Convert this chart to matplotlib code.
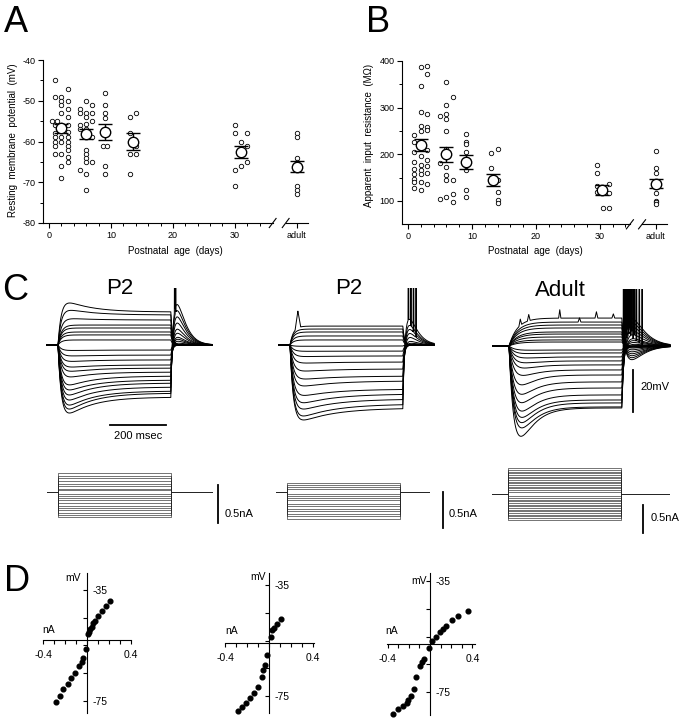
import numpy as np
import matplotlib
matplotlib.use("Agg")
import matplotlib.pyplot as plt

plt.rcParams["font.family"] = ["Liberation Sans", "DejaVu Sans"]
plt.rcParams["axes.unicode_minus"] = False

W, H = 684, 720

# ---------------- A: resting membrane potential (mV) ----------------
a_cols_x = [0.9, 1.9, 3.0, 5, 6, 7, 9, 13, 14, 30, 31, 32, 40]
a_cols_v = [
    [-45, -49, -55, -55, -56, -58, -59, -60, -61, -63],
    [-49, -50, -51, -53, -56, -59, -60, -63, -66, -69],
    [-47, -50, -52, -54, -56, -57.6, -59, -60, -61, -62, -63.8, -65],
    [-52, -53, -56, -57, -67],
    [-50, -53, -54, -55.6, -57, -57.6, -62, -63, -64, -65, -68, -72],
    [-51, -53, -55, -59, -65],
    [-48, -51, -53, -54.3, -58, -61, -61, -66, -68],
    [-54, -58, -63, -68],
    [-53, -61, -63],
    [-56, -58, -67, -71],
    [-60, -63, -66],
    [-58, -61, -65],
    [-58, -59, -64, -65, -66, -66, -71, -72, -73],
]
a_mean_x = [1.9, 5.9, 9.1, 13.6, 31, 40]
a_mean = [-56.8, -58.2, -57.6, -60.0, -62.6, -66.2]
a_sem = [1.0, 1.3, 2.0, 2.0, 1.5, 1.4]

# ---------------- B: apparent input resistance (MOhm) ----------------
b_cols_x = [1.0, 2.0, 3.0, 5, 6, 7, 9, 13, 14, 29.5, 30.5, 31.5, 38.75]
b_cols_v = [
    [241, 227, 205, 183, 169, 157, 148, 140, 128],
    [388, 346, 291, 260, 250, 227, 217, 197, 177, 166, 158, 141, 124],
    [389, 373, 287, 259, 252, 209, 188, 174, 161, 137],
    [282, 181, 104],
    [356, 305, 287, 276, 250, 212, 194, 173, 156, 144, 108],
    [323, 144, 116, 98],
    [244, 227, 222, 205, 189, 177, 166, 123, 108],
    [202, 170, 145],
    [211, 144, 120, 103, 96],
    [178, 160, 133, 119],
    [123, 86],
    [136, 117, 84],
    [207, 170, 159, 141, 130, 117, 101, 98, 94],
]
b_mean_x = [2.0, 6.0, 9.0, 13.3, 30.4, 38.75]
b_mean = [220, 200, 184, 145, 123, 137]
b_sem = [12.5, 16, 14.5, 13.5, 10.5, 10]

# ---------------- C: voltage responses (mV from rest) ----------------
g1_ss = [15.7, 14.3, 11.9, 9.5, 8.1, 6.2, 4.8, 2.4, -2.4, -4.8, -7.1, -9.5, -11.0,
         -12.9, -14.8, -16.7, -18.1, -20.0, -21.9, -22.9, -24.8]
g1_peak = [20.0, 16.5, 12.5, 9.5, 8.1, 6.2, 4.8, 2.4, -2.6, -5.2, -7.8, -10.5, -12.5,
           -15.2, -19.0, -21.4, -23.8, -26.2, -28.6, -30.5, -32.4]
g1_reb = [0, 0, 0, 0, 0, 0, 0, 0, 0, 0, 0, 1, 2, 3, 4, 6, 8, 11, 14, 17, 20]
g1_spikes = [(20, 414, 80, 1.5), (19, 417, 80, 1.5)]

g2_ss = [9.0, 7.6, 6.2, 4.3, 2.4, -0.5, -2.9, -5.2, -8.1, -11.4, -14.8, -17.1, -21.0,
         -23.3, -25.7, -28.1, -30.0]
g2_peak = [9.0, 7.6, 6.2, 4.3, 2.4, -0.6, -3.0, -5.5, -8.6, -12.4, -16.2, -19.5, -24.0,
           -27.5, -30.5, -33.8, -35.7]
g2_reb = [0, 0, 0, 0, 0, 0, 0, 0, 0, 0, 1, 2, 4, 6, 8, 10, 13]
g2_spikes = [(0, 28, 8, 10), (16, 420, 80, 1.5), (15, 429, 80, 1.5),
             (14, 438, 80, 1.5), (13, 447, 80, 1.5)]

g3_ss = [13.3, 11.4, 10.0, 8.6, 6.7, 5.7, 4.3, 2.9, 1.9, -1.9, -3.3, -5.2, -7.1, -9.0,
         -11.4, -13.8, -17.1, -20.0, -23.3, -25.7, -27.1, -29.0, -29.5]
g3_peak = [13.3, 11.4, 10.0, 8.6, 6.7, 5.7, 4.3, 2.9, 1.9, -2.0, -3.6, -5.7, -8.0, -10.5,
           -14.0, -18.5, -23.0, -27.0, -31.0, -34.0, -36.5, -39.0, -43.0]
g3_reb = [-7, -6, -5, -4, -3, -2, -1, -1, 0, 0, 0, 0, 0, 0, 1, 2, 3, 4, 6, 8, 10, 12, 14]
g3_spikes = [(0, 40, 3, 5), (0, 70, 3, 5), (0, 180, 4, 4), (1, 250, 2, 5), (0, 310, 3, 5),
             (0, 370, 2, 5),
             (22, 406, 80, 1.5), (22, 414, 80, 1.5), (21, 410, 80, 1.5), (21, 420, 80, 1.5),
             (20, 416, 80, 1.5), (20, 428, 80, 1.5), (19, 424, 80, 1.5), (19, 436, 80, 1.5),
             (18, 432, 80, 1.5), (18, 446, 80, 1.5), (17, 440, 80, 1.5), (16, 452, 80, 1.5),
             (15, 462, 80, 1.5), (14, 472, 80, 1.5)]

# current steps (nA)
g1_cur = [0.25, 0.21, 0.18, 0.14, 0.11, 0.08, 0.04, 0.02, -0.02, -0.05, -0.08, -0.11,
          -0.15, -0.18, -0.21, -0.24, -0.27, -0.30, -0.33]
g2_cur = [0.125, 0.1, 0.07, 0.035, -0.03, -0.055, -0.08, -0.11, -0.16, -0.2, -0.24,
          -0.27, -0.31, -0.34, -0.37]
g3_cur = [0.46, 0.43, 0.40, 0.37, 0.34, 0.31, 0.28, 0.25, 0.22, 0.19, 0.16, 0.13, 0.10,
          0.07, 0.04, -0.04, -0.07, -0.10, -0.13, -0.16, -0.19, -0.22, -0.25, -0.28,
          -0.31, -0.34, -0.37, -0.40, -0.43, -0.46]

# ---------------- D: I-V relations ----------------
iv1_i = [0.21, 0.177, 0.14, 0.104, 0.076, 0.058, 0.043, 0.03, 0.018, 0.006, -0.012,
         -0.037, -0.049, -0.07, -0.107, -0.143, -0.177, -0.214, -0.25, -0.284]
iv1_v = [-39.0, -40.7, -42.6, -44.3, -46.1, -47.0, -48.3, -49.2, -50.3, -51.0, -56.4,
         -59.7, -60.9, -62.5, -64.9, -66.7, -69.1, -70.7, -73.3, -75.4]
iv2_i = [0.11, 0.076, 0.046, 0.03, 0.015, -0.021, -0.037, -0.052, -0.067, -0.104,
         -0.137, -0.174, -0.21, -0.244, -0.278]
iv2_v = [-47.2, -49.2, -50.6, -51.2, -53.6, -60.2, -63.8, -65.6, -68.0, -71.6, -74.0,
         -75.8, -77.6, -79.0, -80.3]
iv3_i = [0.357, 0.266, 0.205, 0.151, 0.127, 0.097, 0.054, 0.021, -0.012, -0.054,
         -0.076, -0.097, -0.13, -0.151, -0.175, -0.205, -0.22, -0.25, -0.302, -0.353]
iv3_v = [-45.9, -47.7, -49.2, -51.1, -52.2, -53.5, -55.2, -56.6, -59.0, -63.0, -64.2,
         -65.6, -69.6, -74.1, -76.5, -78.0, -78.9, -80.0, -81.3, -82.8]
iv_rest = [-53.0, -55.9, -57.7]

PX_MS = 0.282   # horizontal scale of the traces, px per ms
PX_MV = 2.1     # px per mV

fig = plt.figure(figsize=(W / 100, H / 100), dpi=100)


def px_axes(x0, y0, x1, y1):
    return fig.add_axes([x0 / W, 1 - y1 / H, (x1 - x0) / W, (y1 - y0) / H])


def ftext(x, y, s, **kw):
    fig.text(x / W, 1 - y / H, s, **kw)


# ---------- scatter panels ----------
def draw_scatter(ax, cols_x, cols_v, mean_x, mean_v, sem, xlim, ylim, breaks, adult_x,
                 yticks, yminor):
    ax.set_xlim(*xlim)
    ax.set_ylim(*ylim)
    for x, vals in zip(cols_x, cols_v):
        xs = []
        seen = {}
        for v in vals:
            n = vals.count(v)
            k = seen.get(v, 0)
            seen[v] = k + 1
            xs.append(x + (k - (n - 1) / 2) * 0.7)
        ax.plot(xs, vals, "o", ms=3.2, mfc="white", mec="black", mew=0.6, ls="none",
                zorder=2)
    ax.errorbar(mean_x, mean_v, yerr=sem, fmt="o", ms=7.5, mfc="white", mec="black",
                mew=1.0, ecolor="black", elinewidth=1.0, capsize=4.7, capthick=1.4,
                zorder=3)
    for s in ("top", "right", "bottom"):
        ax.spines[s].set_visible(False)
    ax.spines["left"].set_linewidth(0.8)
    tr = ax.get_xaxis_transform()
    b1, b2 = breaks
    ax.plot([xlim[0], b1], [0, 0], transform=tr, color="black", lw=0.8, clip_on=False)
    ax.plot([b2, xlim[1]], [0, 0], transform=tr, color="black", lw=0.8, clip_on=False)
    for b in breaks:
        ax.plot([b - 0.55, b + 0.55], [-0.028, 0.028], transform=tr, color="black",
                lw=0.8, clip_on=False)
    ax.set_xticks([0, 10, 20, 30, adult_x])
    ax.set_xticklabels(["0", "10", "20", "30", "adult"])
    ax.set_xticks([2, 4, 6, 8, 12, 14, 16, 18, 22, 24, 26, 28, 32, 34], minor=True)
    ax.set_yticks(yticks)
    ax.set_yticks(yminor, minor=True)
    ax.tick_params(which="major", direction="out", length=3.5, width=0.8, labelsize=6.5,
                   pad=2)
    ax.tick_params(which="minor", direction="out", length=2.2, width=0.7)
    ax.patch.set_visible(False)


axA = px_axes(43, 60, 308, 223)
draw_scatter(axA, a_cols_x, a_cols_v, a_mean_x, a_mean, a_sem, (-0.97, 41.8), (-80, -40),
             (36.1, 38.2), 40, [-80, -70, -60, -50, -40], [-75, -65, -55, -45])
axB = px_axes(402, 61, 667, 224.3)
draw_scatter(axB, b_cols_x, b_cols_v, b_mean_x, b_mean, b_sem, (-0.94, 40.5), (50, 400),
             (34.7, 36.6), 38.75, [100, 200, 300, 400], [150, 250, 350])

lab = dict(fontsize=7, ha="center", va="center")
ftext(175, 251, "Postnatal  age  (days)", **lab)
ftext(535, 251, "Postnatal  age  (days)", **lab)
ftext(13, 140, "Resting  membrane  potential  (mV)", rotation=90, **lab)
ftext(369, 135, "Apparent  input  resistance  (M\u03a9)", rotation=90, **lab)

letter = dict(fontsize=26, va="baseline", ha="left")
ftext(4, 32, "A", **letter)
ftext(366, 32, "B", **letter)
ftext(2, 300, "C", **letter)
ftext(4, 591, "D", **letter)

title = dict(fontsize=16, va="baseline", ha="center")
ftext(120, 294, "P2", **title)
ftext(349, 294, "P2", **title)
ftext(560, 296, "Adult", **title)


# ---------- voltage traces ----------
def onset_shape(t, ss, x, tau_on, tau_sag):
    return (1 - np.exp(-t / tau_on)) * (ss + (x - ss) * np.exp(-t / tau_sag))


def drive_for_peak(ss, pk, tau_on, tau_sag):
    # start level that makes the drawn extreme of the trace reach the read peak
    if abs(pk - ss) < 0.05:
        return pk
    tt = np.arange(0, 400, 0.5)
    sign = 1.0 if pk > ss else -1.0
    lo, hi = 0.0, 200.0
    for _ in range(50):
        m = (lo + hi) / 2
        v = onset_shape(tt, ss, ss + sign * m, tau_on, tau_sag)
        ext = v.max() if sign > 0 else v.min()
        if abs(ext) < abs(pk):
            lo = m
        else:
            hi = m
    return ss + sign * (lo + hi) / 2


def voltage_group(pulse_px, base_py, t0, t1, ss_l, pk_l, reb_l, spikes, tau_on, tau_sag,
                  tau_off, tau_reb):
    ax = px_axes(pulse_px - 60 * PX_MS, base_py - 27 * PX_MV, pulse_px + 590 * PX_MS,
                 base_py + 46 * PX_MV)
    ax.set_xlim(-60, 590)
    ax.set_ylim(-46, 27)
    ax.axis("off")
    t = np.arange(t0, t1 + 0.25, 0.5)
    for k, (ss, pk, reb) in enumerate(zip(ss_l, pk_l, reb_l)):
        x = drive_for_peak(ss, pk, tau_on, tau_sag)
        v = np.zeros_like(t)
        on = (t >= 0) & (t < 400)
        v[on] = onset_shape(t[on], ss, x, tau_on, tau_sag)
        v_end = onset_shape(400.0, ss, x, tau_on, tau_sag)
        off = t >= 400
        tp = t[off] - 400
        v[off] = v_end * np.exp(-tp / tau_off) + reb * (tp / tau_reb) * np.exp(1 - tp / tau_reb)
        for idx, ts, amp, hw in spikes:
            if idx == k:
                v = v + amp * np.clip(1 - np.abs(t - ts) / hw, 0, None)
        ax.plot(t, v, color="black", lw=0.7)
    return ax


axC1 = voltage_group(58, 345, -39, 546, g1_ss, g1_peak, g1_reb, g1_spikes, 12, 90, 6, 20)
axC2 = voltage_group(290, 345, -39, 511, g2_ss, g2_peak, g2_reb, g2_spikes, 12, 120, 6, 20)
axC3 = voltage_group(509, 346, -57, 571, g3_ss, g3_peak, g3_reb, g3_spikes, 30, 45, 10, 30)

# scale bars
axC1.plot([184, 383], [-38, -38], color="black", lw=1.3, clip_on=False)
axC1.text(283, -43.3, "200 msec", fontsize=8, ha="center", va="center")
axC3.plot([440, 440], [-11.4, -31.4], color="black", lw=1.3, clip_on=False)
axC3.text(465, -19.5, "20mV", fontsize=8, ha="left", va="center")


# ---------- current steps ----------
def current_group(pulse_px, base_py, px_na, t0, t1, levels):
    ax = px_axes(pulse_px - 60 * PX_MS, base_py - 0.6 * px_na, pulse_px + 610 * PX_MS,
                 base_py + 0.8 * px_na)
    ax.set_xlim(-60, 610)
    ax.set_ylim(-0.8, 0.6)
    ax.axis("off")
    for cur in levels:
        ax.plot([t0, 0, 0, 400, 400, t1], [0, 0, cur, cur, 0, 0], color="0.15", lw=0.45)
    return ax


axI1 = current_group(58, 492, 76, -39, 546, g1_cur)
axI2 = current_group(287, 492, 72, -39, 503, g2_cur)
axI3 = current_group(508, 494, 56, -57, 571, g3_cur)

axI1.plot([567, 567], [0.092, -0.408], color="black", lw=1.3, clip_on=False)
axI1.text(592, -0.29, "0.5nA", fontsize=8, ha="left", va="center")
axI2.plot([553, 553], [0.0, -0.5], color="black", lw=1.3, clip_on=False)
axI2.text(574, -0.306, "0.5nA", fontsize=8, ha="left", va="center")
axI3.plot([479, 479], [-0.196, -0.696], color="black", lw=1.3, clip_on=False)
axI3.text(504, -0.43, "0.5nA", fontsize=8, ha="left", va="center")


# ---------- I-V plots ----------
def draw_iv(ax, cur, volt, rest, xlim, ylim):
    ax.set_xlim(*xlim)
    ax.set_ylim(*ylim)
    ax.spines["top"].set_visible(False)
    ax.spines["left"].set_visible(False)
    ax.spines["right"].set_position(("data", 0))
    ax.spines["bottom"].set_position(("data", rest))
    for s in ("right", "bottom"):
        ax.spines[s].set_linewidth(0.8)
    ax.yaxis.tick_right()
    ax.set_xticks([-0.4, -0.3, -0.2, -0.1, 0, 0.1, 0.2, 0.3, 0.4])
    ax.set_xticklabels(["-0.4", "", "", "", "", "", "", "", "0.4"])
    ax.set_yticks([-35, -45, -55, -65, -75])
    ax.set_yticklabels(["-35", "", "", "", "-75"])
    ax.tick_params(axis="x", direction="out", length=3, width=0.8, pad=4, labelsize=7.5)
    ax.tick_params(axis="y", direction="in", length=3, width=0.8, pad=4, labelsize=7.5)
    ax.plot(cur, volt, "o", color="black", ms=3.4, ls="none", clip_on=False)
    ax.patch.set_visible(False)


axD1 = px_axes(43, 573, 131, 713)
draw_iv(axD1, iv1_i, iv1_v, iv_rest[0], (-0.4, 0.4), (-79.4, -28.9))
axD2 = px_axes(225, 573, 314, 713)
draw_iv(axD2, iv2_i, iv2_v, iv_rest[1], (-0.4, 0.41), (-81.1, -30.7))
axD3 = px_axes(387, 573, 475, 715)
draw_iv(axD3, iv3_i, iv3_v, iv_rest[2], (-0.405, 0.424), (-83.3, -32.1))

small = dict(fontsize=7.5, ha="center", va="center")
for (mx, my), (nx, ny) in [((73, 578), (49, 630)), ((258, 577), (232, 631)),
                           ((419, 581), (392, 631))]:
    ftext(mx, my, "mV", **small)
    ftext(nx, ny, "nA", **small)

fig.savefig("out.png", dpi=100)
